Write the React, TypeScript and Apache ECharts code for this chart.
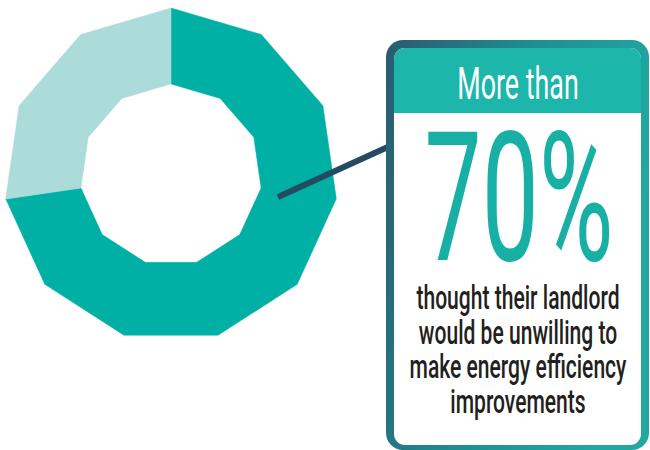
import React, { useEffect, useRef } from "react";
import * as echarts from "echarts";

// ---- data ----
const categories = ["Unwilling", "Other"];
const shares = [72.7, 27.3];
const sliceColors = ["#01b0a5", "#abdcd9"];
const polygonSides = 11;
const innerRadiusValue = 54.5;
const outerRadiusValue = 100;

const headerText = "More than";
const bigText = "70%";
const bodyLines = [
  "thought their landlord",
  "would be unwilling to",
  "make energy efficiency",
  "improvements",
];

export default function App() {
  const ref = useRef<HTMLDivElement>(null);

  useEffect(() => {
    if (!ref.current) return;
    const chart = echarts.init(ref.current, null, { renderer: "svg" });
    const step = 100 / polygonSides;

    const renderItem = (params: any, api: any) => {
      const i = params.dataIndex;
      let start = 0;
      for (let k = 0; k < i; k++) start += shares[k];
      const end = start + shares[i];
      const angles: number[] = [start];
      for (let k = 1; k < polygonSides; k++) {
        const a = k * step;
        if (a > start + 1e-6 && a < end - 1e-6) angles.push(a);
      }
      angles.push(end);
      const edgePoint = (r: number, a: number) => {
        let k = Math.floor(a / step + 1e-9);
        if (k >= polygonSides) k = polygonSides - 1;
        const t = (a - k * step) / step;
        const p0 = api.coord([r, k * step]);
        const p1 = api.coord([r, (k + 1) * step]);
        return [p0[0] + (p1[0] - p0[0]) * t, p0[1] + (p1[1] - p0[1]) * t];
      };
      const outer = angles.map((a) => edgePoint(outerRadiusValue, a));
      const inner = angles.map((a) => edgePoint(innerRadiusValue, a)).reverse();
      return {
        type: "polygon",
        shape: { points: outer.concat(inner) },
        style: { fill: sliceColors[i], stroke: sliceColors[i], lineWidth: 0.5 },
      };
    };

    const bodyStyle = {
      fill: "#231f20",
      fontFamily: "Roboto",
      fontSize: 34,
      fontWeight: 500,
      align: "center",
      verticalAlign: "middle",
    };

    chart.setOption({
      animation: false,
      polar: { center: [171, 175], radius: 167 },
      angleAxis: {
        type: "value",
        min: 0,
        max: 100,
        startAngle: 90,
        clockwise: true,
        show: false,
      },
      radiusAxis: { type: "value", min: 0, max: 100, show: false },
      series: [
        {
          type: "custom",
          coordinateSystem: "polar",
          renderItem,
          data: shares.map((v, i) => ({ name: categories[i], value: [outerRadiusValue, v] })),
          z: 1,
        },
      ],
      graphic: [
        {
          type: "line",
          z: 10,
          shape: { x1: 278, y1: 197, x2: 390, y2: 146 },
          style: { stroke: "#244b62", lineWidth: 6 },
        },
        {
          type: "rect",
          z: 11,
          shape: { x: 386, y: 40, width: 263, height: 410, r: 17 },
          style: {
            fill: new echarts.graphic.LinearGradient(0, 0, 1, 0.3, [
              { offset: 0, color: "#2b5a70" },
              { offset: 0.5, color: "#1f8d90" },
              { offset: 1, color: "#20a8a1" },
            ]),
          },
        },
        {
          type: "rect",
          z: 12,
          shape: { x: 394, y: 48, width: 247, height: 397, r: 11 },
          style: { fill: "#ffffff" },
        },
        {
          type: "rect",
          z: 13,
          shape: { x: 394, y: 48, width: 247, height: 65, r: [11, 11, 0, 0] },
          style: { fill: "#1cb6aa" },
        },
        {
          type: "text",
          z: 14,
          x: 518,
          y: 84,
          scaleX: 0.61,
          style: {
            text: headerText,
            fill: "#ffffff",
            fontFamily: "Roboto",
            fontSize: 44,
            align: "center",
            verticalAlign: "middle",
          },
        },
        {
          type: "text",
          z: 14,
          x: 519,
          y: 198,
          scaleX: 0.565,
          style: {
            text: bigText,
            fill: "#18b0a4",
            fontFamily: "Roboto",
            fontSize: 180,
            align: "center",
            verticalAlign: "middle",
          },
        },
        ...bodyLines.map((line, i) => ({
          type: "text",
          z: 14,
          x: 518,
          y: 298 + i * 34.4,
          scaleX: 0.62,
          style: { ...bodyStyle, text: line },
        })),
      ],
    });
    return () => chart.dispose();
  }, []);

  return (
    <div
      ref={ref}
      style={{ position: "fixed", left: 0, top: 0, width: 650, height: 450, background: "#ffffff" }}
    />
  );
}
